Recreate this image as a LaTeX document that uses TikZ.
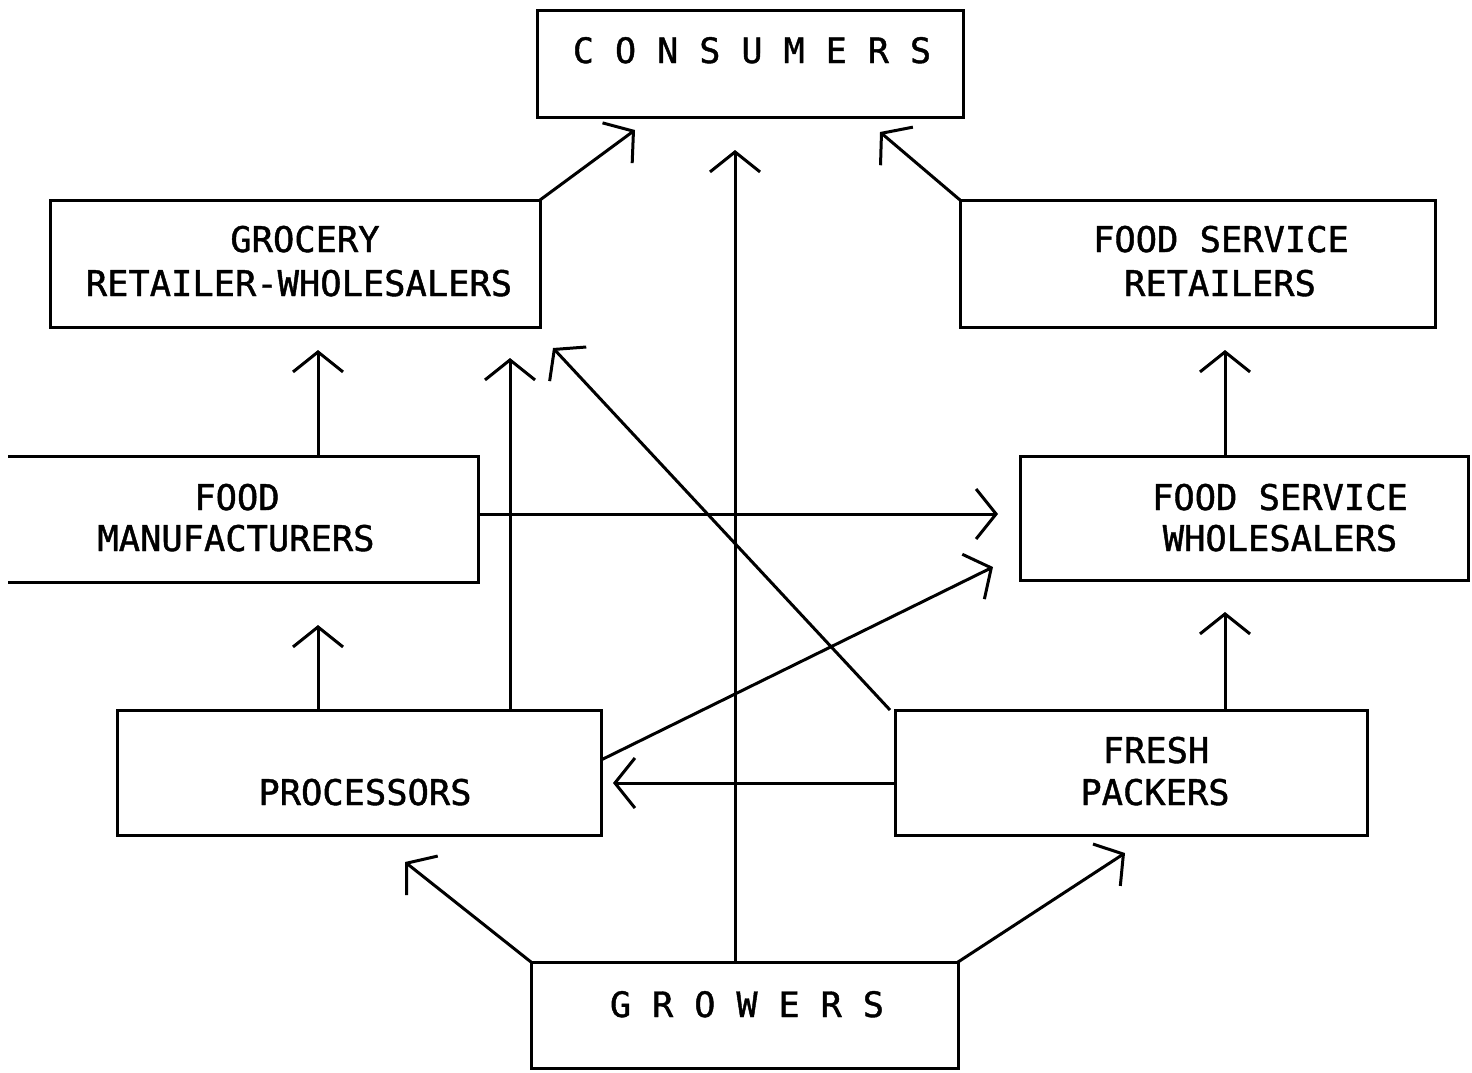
\documentclass[tikz,border=0pt]{standalone}
\usepackage{fontspec}
\newfontfamily\dotfont[FakeBold=1.2]{DejaVu Sans Mono}
\usetikzlibrary{arrows.meta}
\begin{document}
\begin{tikzpicture}[x=0.5pt,y=-0.5pt,
  boxnode/.style={draw, line width=1.5pt, inner sep=0pt, outer sep=0pt},
  openbox/.style={draw=none, inner sep=0pt, outer sep=0pt},
  txt/.style={anchor=base, inner sep=0pt, font=\dotfont\fontsize{17.7}{21}\selectfont},
  title/.style={anchor=base, inner sep=0pt, font=\dotfont\fontsize{17.5}{21}\selectfont},
  flow/.style={line width=1.5pt, -{Straight Barb[length=10pt,width=25pt,line width=1.5pt]}}
]
\useasboundingbox[fill=white] (0,0) rectangle (1472,1072);

% boxes
\node[boxnode, minimum width=213pt, minimum height=53.5pt] (cons) at (750,63.5) {};
\node[boxnode, minimum width=245pt, minimum height=63.5pt] (groc) at (295,263.5) {};
\node[boxnode, minimum width=237.5pt, minimum height=63.5pt] (fsr) at (1197.5,263.5) {};
\node[openbox, minimum width=235pt, minimum height=63pt] (fman) at (243,519) {};
\draw[line width=1.5pt] (fman.north west) -- (fman.north east) -- (fman.south east) -- (fman.south west);
\node[boxnode, minimum width=224pt, minimum height=62pt] (fsw) at (1244,518) {};
\node[boxnode, minimum width=242pt, minimum height=62.5pt] (proc) at (359,772.5) {};
\node[boxnode, minimum width=236pt, minimum height=62.5pt] (fresh) at (1131,772.5) {};
\node[boxnode, minimum width=213.5pt, minimum height=53pt] (grow) at (744.5,1015) {};

% texts
\node[title] (consT) at (752,63) {C O N S U M E R S};
\node[txt] (grocA) at (305,252) {GROCERY};
\node[txt] (grocB) at (299,296) {RETAILER-WHOLESALERS};
\node[txt] (fsrA) at (1221,252) {FOOD SERVICE};
\node[txt] (fsrB) at (1220,296) {RETAILERS};
\node[txt] (fmanA) at (237,510) {FOOD};
\node[txt] (fmanB) at (236,551) {MANUFACTURERS};
\node[txt] (fswA) at (1280,510) {FOOD SERVICE};
\node[txt] (fswB) at (1280,551) {WHOLESALERS};
\node[txt] (procT) at (365,805) {PROCESSORS};
\node[txt] (freshA) at (1156,763) {FRESH};
\node[txt] (freshB) at (1155,805) {PACKERS};
\node[title] (growT) at (747,1017) {G R O W E R S};

% arrow tips
\coordinate (t1) at (635,130);
\coordinate (t2) at (880,132);
\coordinate (t3) at (735,150);
\coordinate (t4) at (318,350);
\coordinate (t5) at (318,625);
\coordinate (t6) at (510,358);
\coordinate (t7) at (553,348);
\coordinate (t8) at (998,514);
\coordinate (t9) at (993,567);
\coordinate (t10) at (613,783);
\coordinate (t11) at (1225,350);
\coordinate (t12) at (1225,612);
\coordinate (t13) at (405,862);
\coordinate (t14) at (1125,853);

% connectors
\draw[flow] (groc.north east) -- (t1);
\draw[flow] (fsr.north west) -- (t2);
\draw[flow] (grow.north -| t3) -- (t3);
\draw[flow] (fman.north -| t4) -- (t4);
\draw[flow] (proc.north -| t5) -- (t5);
\draw[flow] (proc.north -| t6) -- (t6);
\draw[flow] ([xshift=-2.5pt]fresh.north west) -- (t7);
\draw[flow] (fman.east |- t8) -- (t8);
\draw[flow] ([yshift=6.25pt]proc.east) -- (t9);
\draw[flow] (fresh.west |- t10) -- (t10);
\draw[flow] (fsw.north -| t11) -- (t11);
\draw[flow] (fresh.north -| t12) -- (t12);
\draw[flow] (grow.north west) -- (t13);
\draw[flow] (grow.north east) -- (t14);
\end{tikzpicture}
\end{document}
